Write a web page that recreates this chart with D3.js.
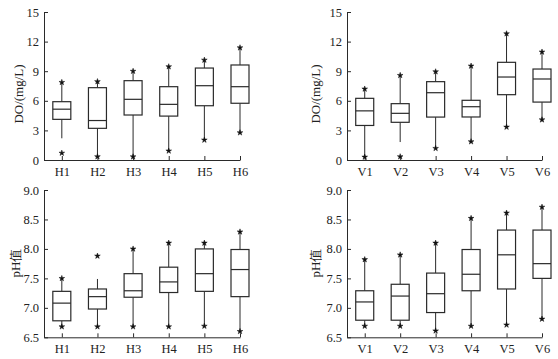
<!DOCTYPE html>
<html><head><meta charset="utf-8">
<script src="https://cdn.jsdelivr.net/npm/d3@7"></script>
<style>
html,body{margin:0;padding:0;background:#fff;}
svg{display:block;}
text{font-family:"Liberation Serif","Times New Roman",serif;fill:#222;}
</style></head><body>
<svg id="c" width="558" height="359"></svg>
<script>
// ---- data ----
const catsH = ["H1","H2","H3","H4","H5","H6"];
const catsV = ["V1","V2","V3","V4","V5","V6"];

// DO, H sites
const doH_q1   = [4.12, 3.21, 4.56, 4.45, 5.50, 5.75];
const doH_med  = [5.15, 4.00, 6.15, 5.64, 7.53, 7.43];
const doH_q3   = [5.91, 7.33, 8.04, 7.43, 9.32, 9.63];
const doH_wLo  = [2.20, 0.34, 0.33, 0.92, 2.03, 2.77];
const doH_wHi  = [7.87, 7.95, 9.00, 9.46, 10.13, 11.38];
const doH_min  = [0.70, 0.34, 0.33, 0.92, 2.03, 2.77];
const doH_max  = [7.87, 7.95, 9.00, 9.46, 10.13, 11.38];

// DO, V sites
const doV_q1   = [3.50, 3.82, 4.35, 4.36, 6.62, 5.87];
const doV_med  = [4.98, 4.73, 6.82, 5.40, 8.41, 8.21];
const doV_q3   = [6.25, 5.71, 7.94, 6.05, 9.90, 9.22];
const doV_wLo  = [0.30, 1.82, 1.18, 1.86, 3.34, 4.08];
const doV_wHi  = [7.20, 8.58, 8.95, 9.53, 12.80, 10.95];
const doV_min  = [0.30, 0.34, 1.18, 1.86, 3.34, 4.08];
const doV_max  = [7.20, 8.58, 8.95, 9.53, 12.80, 10.95];

// pH, H sites
const phH_q1   = [6.78, 6.98, 7.18, 7.26, 7.28, 7.19];
const phH_med  = [7.08, 7.19, 7.29, 7.44, 7.58, 7.65];
const phH_q3   = [7.28, 7.32, 7.58, 7.69, 8.00, 7.99];
const phH_wLo  = [6.68, 6.68, 6.68, 6.68, 6.69, 6.60];
const phH_wHi  = [7.50, 7.49, 8.00, 8.10, 8.10, 8.29];
const phH_min  = [6.68, 6.68, 6.68, 6.68, 6.69, 6.60];
const phH_max  = [7.50, 7.88, 8.00, 8.10, 8.10, 8.29];

// pH, V sites
const phV_q1   = [6.79, 6.79, 6.92, 7.29, 7.32, 7.50];
const phV_med  = [7.10, 7.20, 7.24, 7.57, 7.90, 7.75];
const phV_q3   = [7.29, 7.40, 7.59, 7.99, 8.32, 8.32];
const phV_wLo  = [6.69, 6.69, 6.61, 6.69, 6.71, 6.81];
const phV_wHi  = [7.82, 7.90, 8.10, 8.52, 8.61, 8.71];
const phV_min  = [6.69, 6.69, 6.61, 6.69, 6.71, 6.81];
const phV_max  = [7.82, 7.90, 8.10, 8.52, 8.61, 8.71];

const doTicks = [0, 3, 6, 9, 12, 15];
const phTicks = [6.5, 7.0, 7.5, 8.0, 8.5, 9.0];

const doTitle = "DO/(mg/L)";
const phTitle = "pH值";

// ---- drawing ----
const svg = d3.select("#c");
const ink = "#2a2a2a";

function panel(o){
  const g = svg.append("g");
  const x = d3.scaleLinear().domain([0.5, o.cats.length]).range([o.x0, o.x1]);
  const y = d3.scaleLinear().domain(o.yDom).range([o.y0, o.y1]);
  const idx = d3.range(1, o.cats.length + 1);

  // y axis
  const ya = g.append("g").attr("transform", `translate(${o.x0},0)`)
    .call(d3.axisLeft(y).tickValues(o.ticks).tickSizeInner(-4).tickSizeOuter(0)
      .tickPadding(5).tickFormat(o.fmt));
  ya.select(".domain").attr("stroke", ink);
  ya.selectAll(".tick line").attr("stroke", ink);
  ya.selectAll(".tick text").attr("font-size", 12.5).attr("fill", "#222")
    .attr("font-family", "Liberation Serif, serif");

  // x axis
  const xa = g.append("g").attr("transform", `translate(0,${o.y0})`)
    .call(d3.axisBottom(x).tickValues(idx).tickSizeInner(-4).tickSizeOuter(0)
      .tickPadding(7).tickFormat(i => o.cats[i-1]));
  xa.select(".domain").attr("stroke", ink);
  xa.selectAll(".tick line").attr("stroke", ink);
  xa.selectAll(".tick text").attr("font-size", 12.5).attr("fill", "#222")
    .attr("font-family", "Liberation Serif, serif");

  // title
  g.append("text").attr("transform", `translate(${o.tx},${o.ty}) rotate(-90)`)
    .attr("text-anchor", "middle").attr("dominant-baseline", "central")
    .attr("font-size", 13).text(o.title);

  const bw = 18;
  const d = idx.map(i => ({i, q1:o.q1[i-1], med:o.med[i-1], q3:o.q3[i-1],
    wLo:o.wLo[i-1], wHi:o.wHi[i-1], mn:o.mn[i-1], mx:o.mx[i-1]}));
  const b = g.selectAll(".box").data(d).enter().append("g");
  // whiskers
  b.append("line").attr("x1", e => x(e.i)).attr("x2", e => x(e.i))
    .attr("y1", e => y(e.q3)).attr("y2", e => y(e.wHi))
    .attr("stroke", ink).attr("stroke-width", 1);
  b.append("line").attr("x1", e => x(e.i)).attr("x2", e => x(e.i))
    .attr("y1", e => y(e.q1)).attr("y2", e => y(e.wLo))
    .attr("stroke", ink).attr("stroke-width", 1);
  // box
  b.append("rect").attr("x", e => x(e.i) - bw/2).attr("width", bw)
    .attr("y", e => y(e.q3)).attr("height", e => y(e.q1) - y(e.q3))
    .attr("fill", "#fff").attr("stroke", ink).attr("stroke-width", 1.2);
  b.append("line").attr("x1", e => x(e.i) - bw/2).attr("x2", e => x(e.i) + bw/2)
    .attr("y1", e => y(e.med)).attr("y2", e => y(e.med))
    .attr("stroke", ink).attr("stroke-width", 1.2);
  // star markers
  const sym = d3.symbol().type(d3.symbolStar).size(10);
  b.append("path").attr("d", sym).attr("fill", "#111").attr("stroke", "#111").attr("stroke-width", 0.5)
    .attr("transform", e => `translate(${x(e.i)},${y(e.mx)})`);
  b.append("path").attr("d", sym).attr("fill", "#111").attr("stroke", "#111").attr("stroke-width", 0.5)
    .attr("transform", e => `translate(${x(e.i)},${y(e.mn)})`);
}

const fmt0 = d3.format("d"), fmt1 = d3.format(".1f");
panel({cats:catsH, x0:44, x1:240, y0:160, y1:12, yDom:[0,15], ticks:doTicks, fmt:fmt0,
  title:doTitle, tx:18.5, ty:94,
  q1:doH_q1, med:doH_med, q3:doH_q3, wLo:doH_wLo, wHi:doH_wHi, mn:doH_min, mx:doH_max});
panel({cats:catsV, x0:347, x1:542, y0:160, y1:12, yDom:[0,15], ticks:doTicks, fmt:fmt0,
  title:doTitle, tx:315, ty:94,
  q1:doV_q1, med:doV_med, q3:doV_q3, wLo:doV_wLo, wHi:doV_wHi, mn:doV_min, mx:doV_max});
panel({cats:catsH, x0:44, x1:240, y0:337.3, y1:190, yDom:[6.5,9], ticks:phTicks, fmt:fmt1,
  title:phTitle, tx:15.5, ty:263,
  q1:phH_q1, med:phH_med, q3:phH_q3, wLo:phH_wLo, wHi:phH_wHi, mn:phH_min, mx:phH_max});
panel({cats:catsV, x0:347, x1:542, y0:337.3, y1:190, yDom:[6.5,9], ticks:phTicks, fmt:fmt1,
  title:phTitle, tx:315, ty:263,
  q1:phV_q1, med:phV_med, q3:phV_q3, wLo:phV_wLo, wHi:phV_wHi, mn:phV_min, mx:phV_max});
</script>
</body></html>
